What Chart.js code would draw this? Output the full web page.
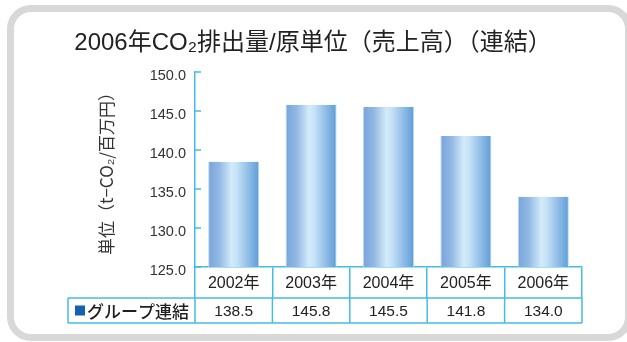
<!DOCTYPE html>
<html>
<head>
<meta charset="utf-8">
<script src="https://cdn.jsdelivr.net/npm/chart.js@4.4.1/dist/chart.umd.min.js"></script>
<style>
  html, body { margin: 0; padding: 0; background: #fff; }
  #wrap { position: relative; width: 627px; height: 342px; overflow: hidden; background: #fff; }
  #frame { position: absolute; left: 7px; top: 5px; width: 625px; height: 336px; box-sizing: border-box;
           border: 7px solid #d8d8d8; border-radius: 24px; }
  #c { position: absolute; left: 0; top: 0; }
</style>
</head>
<body>
<div id="wrap">
  <div id="frame"></div>
  <canvas id="c" width="627" height="342"></canvas>
</div>
<script>
// Chart content
const chartTitle = '2006年CO₂排出量/原単位（売上高）（連結）';
const yTitle = '単位（t−CO₂/百万円）';
const categories = ['2002年', '2003年', '2004年', '2005年', '2006年'];
const seriesName = 'グループ連結';
const values = [138.5, 145.8, 145.5, 141.8, 134.0];
const yTicks = [125, 130, 135, 140, 145, 150];

// Styling
const LINE = '#45bde3';
const LATIN = '"Liberation Sans", Arial, "Noto Sans CJK JP", sans-serif';
const BAR_PCT = 0.66;

function barFill(ctx) {
  const chart = ctx.chart;
  if (!chart.chartArea || ctx.dataIndex === undefined) return '#9cc2e8';
  const xs = chart.scales.x;
  const cx = xs.getPixelForValue(ctx.dataIndex);
  const half = xs.width / categories.length * BAR_PCT / 2;
  const g = chart.ctx.createLinearGradient(cx - half, 0, cx + half, 0);
  g.addColorStop(0, '#77a4db');
  g.addColorStop(0.22, '#93b9e3');
  g.addColorStop(0.46, '#d3ebfa');
  g.addColorStop(0.56, '#c6e2f7');
  g.addColorStop(0.8, '#8dbbe6');
  g.addColorStop(1, '#5d9dd6');
  return g;
}

// Short tick marks pointing into the plot from the value axis
const innerTicks = {
  id: 'innerTicks',
  afterDraw(chart) {
    const y = chart.scales.y;
    const ctx = chart.ctx;
    ctx.save();
    ctx.strokeStyle = LINE;
    ctx.lineWidth = 1.5;
    y.ticks.forEach(t => {
      const py = y.getPixelForValue(t.value);
      ctx.beginPath();
      ctx.moveTo(y.right, py);
      ctx.lineTo(y.right + 6, py);
      ctx.stroke();
    });
    ctx.restore();
  }
};

// Value row of the data table under the category axis
const dataRow = {
  id: 'dataRow',
  afterDraw(chart) {
    const xs = chart.scales.x;
    const ctx = chart.ctx;
    const top = xs.bottom;
    const bottom = top + 25;
    const labelLeft = 68;
    const colW = xs.width / categories.length;
    ctx.save();
    ctx.strokeStyle = LINE;
    ctx.lineWidth = 1.5;
    ctx.beginPath();
    ctx.moveTo(labelLeft, top); ctx.lineTo(xs.right, top);
    ctx.moveTo(labelLeft, bottom); ctx.lineTo(xs.right, bottom);
    ctx.moveTo(labelLeft, top); ctx.lineTo(labelLeft, bottom);
    for (let i = 0; i <= categories.length; i++) {
      const px = xs.left + i * colW;
      ctx.moveTo(px, top); ctx.lineTo(px, bottom);
    }
    ctx.stroke();

    const midY = (top + bottom) / 2;
    ctx.fillStyle = '#222';
    ctx.textBaseline = 'middle';
    ctx.textAlign = 'center';
    ctx.font = '15.5px ' + LATIN;
    values.forEach((v, i) => {
      ctx.fillText(v.toFixed(1), xs.getPixelForValue(i), midY + 1);
    });

    // series key
    ctx.fillStyle = '#1560b0';
    ctx.fillRect(75, midY - 5, 10, 10);
    ctx.fillStyle = '#1e1e1e';
    ctx.textAlign = 'left';
    ctx.font = '500 17px "Noto Sans CJK JP", sans-serif';
    ctx.fillText(seriesName, 87, midY + 1);
    ctx.restore();
  }
};

new Chart(document.getElementById('c'), {
  type: 'bar',
  data: {
    labels: categories,
    datasets: [{
      label: seriesName,
      data: values,
      backgroundColor: barFill,
      borderColor: '#bcd9f2',
      borderWidth: { left: 1, right: 1, top: 0, bottom: 0 },
      borderSkipped: 'bottom',
      categoryPercentage: 1,
      barPercentage: BAR_PCT
    }]
  },
  options: {
    responsive: false,
    maintainAspectRatio: false,
    animation: false,
    events: [],
    layout: { padding: { left: 44, right: 45, top: 0, bottom: 44 } },
    plugins: {
      legend: { display: false },
      tooltip: { enabled: false },
      title: {
        display: true,
        text: chartTitle,
        color: '#222',
        font: { family: LATIN, size: 24, weight: 'normal' },
        padding: { top: 29, bottom: 14.2 }
      }
    },
    scales: {
      x: {
        offset: true,
        afterFit: s => { s.height = 31; },
        grid: { offset: true, drawOnChartArea: false, drawTicks: true, tickLength: 31, color: LINE, lineWidth: 1.5 },
        border: { display: true, color: LINE, width: 1.5 },
        ticks: { padding: -24, color: '#222', maxRotation: 0, autoSkip: false, font: { family: LATIN, size: 16 } }
      },
      y: {
        min: 125,
        max: 150,
        afterFit: s => { s.width = 151; },
        afterBuildTicks: s => { s.ticks = yTicks.map(v => ({ value: v })); },
        grid: { drawOnChartArea: false, drawTicks: false },
        border: { display: true, color: LINE, width: 1.5 },
        ticks: { padding: 9, labelOffset: 4, color: '#333', font: { family: LATIN, size: 14.5 }, callback: v => Number(v).toFixed(1) },
        title: {
          display: true,
          text: yTitle,
          color: '#333',
          font: { family: '"Noto Sans CJK JP", sans-serif', size: 17 },
          padding: { top: 52.8, bottom: 0 }
        }
      }
    }
  },
  plugins: [innerTicks, dataRow]
});
</script>
</body>
</html>
